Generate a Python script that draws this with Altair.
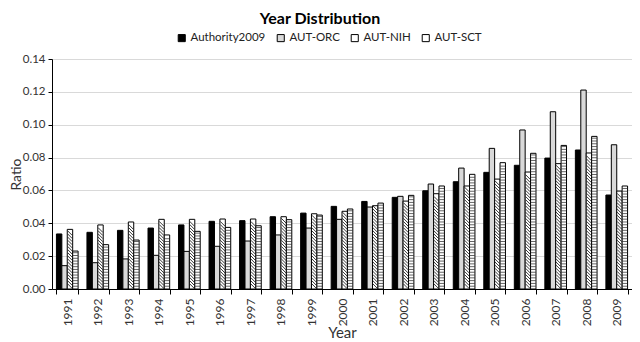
import altair as alt
import pandas as pd

years = [str(y) for y in range(1991, 2010)]
series = ["Authority2009", "AUT-ORC", "AUT-NIH", "AUT-SCT"]
authority = [0.0335, 0.0345, 0.0357, 0.0371, 0.0390, 0.0412, 0.0416, 0.0440, 0.0462, 0.0503,
             0.0533, 0.0558, 0.0598, 0.0653, 0.0710, 0.0753, 0.0797, 0.0846, 0.0572]
orc = [0.0142, 0.0160, 0.0183, 0.0205, 0.0229, 0.0260, 0.0292, 0.0329, 0.0371, 0.0424,
       0.0499, 0.0564, 0.0639, 0.0736, 0.0856, 0.0968, 0.1079, 0.1211, 0.0878]
nih = [0.0363, 0.0390, 0.0408, 0.0424, 0.0424, 0.0426, 0.0426, 0.0440, 0.0458, 0.0473,
       0.0507, 0.0535, 0.0580, 0.0627, 0.0669, 0.0712, 0.0763, 0.0828, 0.0596]
sct = [0.0231, 0.0270, 0.0298, 0.0329, 0.0351, 0.0375, 0.0385, 0.0422, 0.0450, 0.0487,
       0.0523, 0.0570, 0.0627, 0.0698, 0.0769, 0.0826, 0.0874, 0.0929, 0.0627]
y_ticks = [0.0, 0.02, 0.04, 0.06, 0.08, 0.10, 0.12, 0.14]

rows = []
for name, vals in zip(series, [authority, orc, nih, sct]):
    for y, v in zip(years, vals):
        rows.append({"year": y, "series": name, "value": v})
df = pd.DataFrame(rows)

FONT = "Lato"

x_axis = alt.Axis(title="Year", labelAngle=-90, labelAlign="right", labelBaseline="middle",
                  tickBand="extent", tickSize=5, tickColor="black", domainColor="black",
                  labelFontSize=12, labelColor="#333", labelPadding=4,
                  titleFontSize=15, titleFontWeight="normal", titleColor="#333",
                  titleY=43, titleBaseline="middle", grid=False)
y_axis = alt.Axis(title="Ratio", values=y_ticks, format=".2f", labelOverlap=False,
                  gridColor="#d9d9d9", domainColor="black", tickColor="black", tickSize=4,
                  labelFontSize=11.5, labelColor="#333", labelPadding=3,
                  titleFontSize=14, titleFontWeight="normal", titleColor="#333",
                  titleX=-36, titleY=115, titleAngle=-90, titleAlign="center",
                  titleBaseline="middle")
y_scale = alt.Scale(domain=[0, 0.14])
x_enc = alt.X("year:N", sort=years,
              scale=alt.Scale(paddingInner=0.29, paddingOuter=0.145), axis=x_axis)
xo_enc = alt.XOffset("series:N", scale=alt.Scale(domain=series, paddingInner=0))

bars = alt.Chart(df).mark_bar(stroke="black", strokeWidth=1).encode(
    x=x_enc,
    xOffset=xo_enc,
    y=alt.Y("value:Q", scale=y_scale, axis=y_axis),
    fill=alt.Fill("series:N", scale=alt.Scale(domain=series,
                                               range=["black", "#d9d9d9", "white", "white"]),
                  legend=alt.Legend(orient="none", legendX=124, legendY=-27, direction="horizontal",
                                    title=None, symbolType="square", symbolSize=50,
                                    symbolStrokeColor="black", symbolStrokeWidth=1,
                                    labelFontSize=11.5, labelColor="#222", columnPadding=9,
                                    labelOffset=3)),
)

sct_hatch = alt.Chart(df).transform_filter(
    alt.datum.series == "AUT-SCT"
).transform_calculate(
    lvl="sequence(0.0017, datum.value - 0.0006, 0.0017)"
).transform_flatten(["lvl"]).mark_tick(
    orient="horizontal", size=5, thickness=1, color="#222"
).encode(x=x_enc, xOffset=xo_enc, y=alt.Y("lvl:Q", scale=y_scale, axis=y_axis))

nih_hatch = alt.Chart(df).transform_filter(
    alt.datum.series == "AUT-NIH"
).transform_calculate(
    lvl="sequence(0.0017, datum.value - 0.0014, 0.0019)"
).transform_flatten(["lvl"]).mark_point(
    shape="M-1,-1L1,1", size=22, filled=False, stroke="#222", strokeWidth=0.9, opacity=1
).encode(x=x_enc, xOffset=xo_enc, y=alt.Y("lvl:Q", scale=y_scale, axis=y_axis))

chart = alt.layer(bars, sct_hatch, nih_hatch).properties(
    width=580, height=230,
    autosize="none",
    padding={"left": 44, "top": 51, "right": 0, "bottom": 50},
    title=alt.Title("Year Distribution", fontSize=16, font=FONT, fontWeight="bold",
                    color="black", offset=5, dx=-22, anchor="middle"),
).configure(font=FONT).configure_view(stroke=None)

chart.save("out.html", embed_options={"renderer": "svg", "actions": False})
